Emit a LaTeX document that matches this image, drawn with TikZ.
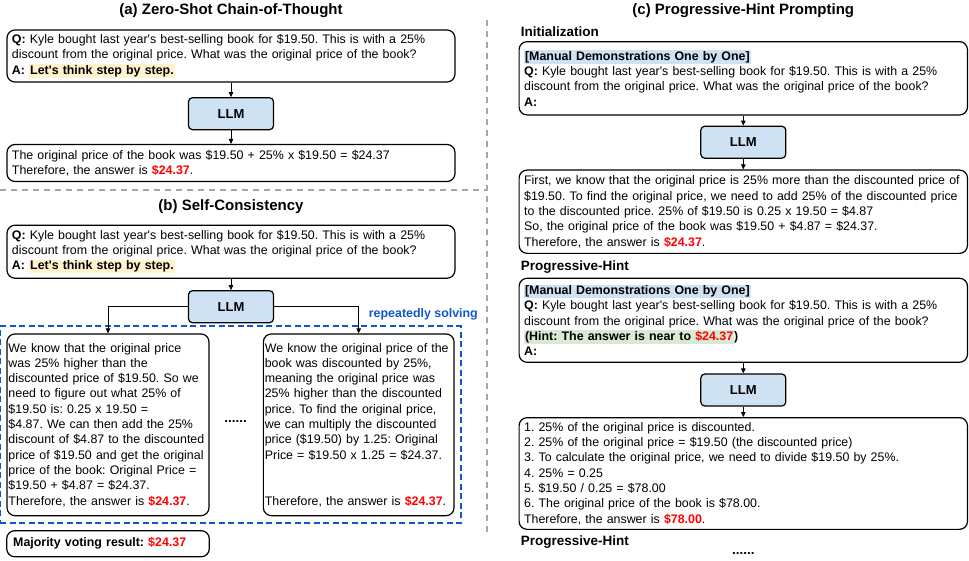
\documentclass[tikz,border=0pt]{standalone}
\usepackage{fontspec}
\setmainfont{Liberation Sans}
\usepackage{tikz}
\usetikzlibrary{arrows.meta,fit}
\definecolor{llmblue}{HTML}{CFE2F3}
\definecolor{hlyellow}{HTML}{FFF2CC}
\definecolor{hlblue}{HTML}{CFE2F3}
\definecolor{hlgreen}{HTML}{D9EAD3}
\definecolor{ansred}{HTML}{FF0000}
\definecolor{solveblue}{HTML}{1155CC}
\definecolor{sepgray}{HTML}{A6A6A6}
\frenchspacing
\hyphenpenalty=10000
\exhyphenpenalty=10000
\newcommand{\hlbox}[2]{{\setlength{\fboxsep}{1pt}\colorbox{#1}{#2}}}
\newcommand{\redans}[1]{\textcolor{ansred}{\textbf{#1}}}
\newcommand{\kyleq}{\textbf{Q:} Kyle bought last year\textquotesingle s best-selling book for \$19.50. This is with a 25\%\\
discount from the original price. What was the original price of the book?}
\newcommand{\manual}{\hlbox{hlblue}{\textbf{[Manual Demonstrations One by One]}}}

\begin{document}
\begin{tikzpicture}[x=1pt,y=1pt]
\tikzstyle{every node}+=[inner sep=0pt]
\tikzstyle{txtbox}=[draw,line width=1.2pt,rounded corners=8pt,align=left,inner xsep=5pt,font=\fontsize{12.4}{15.3}\selectfont]
\tikzstyle{llm}=[draw,line width=1.2pt,rounded corners=4pt,fill=llmblue,minimum width=85pt,minimum height=32pt,font=\bfseries\fontsize{13}{15}\selectfont]
\tikzstyle{conn}=[line width=0.9pt,-{Triangle[length=5pt,width=4.5pt]}]
\tikzstyle{paneltitle}=[anchor=base,font=\bfseries\fontsize{15}{18}\selectfont]
\tikzstyle{stage}=[anchor=base west,font=\bfseries\fontsize{13.5}{16}\selectfont]
\tikzstyle{gapline}=[sepgray,line width=2pt,dash pattern=on 6pt off 5pt]
\tikzstyle{dotsrow}=[font=\bfseries\fontsize{13.5}{15}\selectfont]
\useasboundingbox (0,0) rectangle (969,-560);

% (a)
\node[paneltitle] (titlea) at (231,-14.7) {(a) Zero-Shot Chain-of-Thought};
\node[txtbox,text width=438pt,minimum height=52pt] (qa) at (231,-56)
  {\kyleq\\ \textbf{A:} \hlbox{hlyellow}{\textbf{Let\textquotesingle s think step by step.}}};
\node[llm] (llma) at (231,-113.7) {LLM};
\node[txtbox,text width=438pt,minimum height=37pt] (ansa) at (231,-163)
  {The original price of the book was \$19.50 + 25\% x \$19.50 = \$24.37\\
   Therefore, the answer is \redans{\$24.37}.};
\draw[conn] (qa) -- (llma);
\draw[conn] (llma) -- (ansa);

\coordinate (sepl) at (0,-190);
\coordinate (sepr) at (487,-190);
\coordinate (sept) at (487,-20);
\coordinate (sepb) at (487,-534);
\draw[gapline] (sepl) -- (sepr);
\draw[gapline] (sept) -- (sepb);

% (b)
\node[paneltitle] (titleb) at (231,-210.4) {(b) Self-Consistency};
\node[txtbox,text width=438pt,minimum height=53pt] (qb) at (231,-251.7)
  {\kyleq\\ \textbf{A:} \hlbox{hlyellow}{\textbf{Let\textquotesingle s think step by step.}}};
\node[llm] (llmb) at (231,-306.7) {LLM};
\node[txtbox,text width=199pt,inner xsep=1.5pt,minimum height=181.7pt] (ansb1) at (108,-424.8)
  {We know that the original price\\
   was 25\% higher than the\\
   discounted price of \$19.50. So we\\
   need to figure out what 25\% of\\
   \$19.50 is: 0.25 x 19.50 =\\
   \$4.87. We can then add the 25\%\\
   discount of \$4.87 to the discounted\\
   price of \$19.50 and get the original\\
   price of the book: Original Price =\\
   \$19.50 + \$4.87 = \$24.37.\\
   Therefore, the answer is \redans{\$24.37}.};
\node[txtbox,text width=187.7pt,inner xsep=1.5pt,minimum height=181.7pt] (ansb2) at (358.7,-424.8)
  {We know the original price of the\\
   book was discounted by 25\%,\\
   meaning the original price was\\
   25\% higher than the discounted\\
   price. To find the original price,\\
   we can multiply the discounted\\
   price (\$19.50) by 1.25: Original\\
   Price = \$19.50 x 1.25 = \$24.37.\\[2\baselineskip]
   Therefore, the answer is \redans{\$24.37}.};
\node[dotsrow] (dotsb) at (235.5,-421.7) {......};
\node[fit=(ansb1)(ansb2),draw=solveblue,line width=1.8pt,dash pattern=on 6pt off 3.5pt,inner xsep=6pt,inner ysep=7pt] (solving) {};
\node[anchor=east,text=solveblue,font=\bfseries\fontsize{12.4}{15}\selectfont] (repeat) at (478,-314.3) {repeatedly solving};
\node[txtbox,text width=189.6pt,inner xsep=6.5pt,minimum height=26pt,font=\bfseries\fontsize{12.4}{15}\selectfont] (vote) at (108,-543.7)
  {Majority voting result: \textcolor{ansred}{\$24.37}};
\draw[conn] (qb) -- (llmb);
\draw[conn] (llmb.west) -| (ansb1.north);
\draw[conn] (llmb.east) -| (ansb2.north);

% (c)
\node[paneltitle] (titlec) at (743.3,-14.7) {(c) Progressive-Hint Prompting};
\node[stage] (init) at (520.7,-36.6) {Initialization};
\node[txtbox,text width=438.4pt,minimum height=73.3pt] (qc1) at (743.3,-78.3)
  {\manual\\ \kyleq\\ \textbf{A:}};
\node[llm] (llmc1) at (743.3,-142.2) {LLM};
\node[txtbox,text width=438.4pt,minimum height=83.3pt] (ansc1) at (743.3,-211.7)
  {First, we know that the original price is 25\% more than the discounted price of\\
   \$19.50. To find the original price, we need to add 25\% of the discounted price\\
   to the discounted price. 25\% of \$19.50 is 0.25 x 19.50 = \$4.87\\
   So, the original price of the book was \$19.50 + \$4.87 = \$24.37.\\
   Therefore, the answer is \redans{\$24.37}.};
\node[stage] (hint1) at (520.7,-270.9) {Progressive-Hint};
\node[txtbox,text width=438.4pt,minimum height=84pt] (qc2) at (743.3,-320.3)
  {\manual\\ \kyleq\\
   \hlbox{hlgreen}{\textbf{(Hint: The answer is near to \textcolor{ansred}{\$24.37}}}\textbf{)}\\
   \textbf{A:}};
\node[llm] (llmc2) at (743.3,-390) {LLM};
\node[txtbox,text width=438.4pt,minimum height=111.7pt] (ansc2) at (743.3,-473.5)
  {1. 25\% of the original price is discounted.\\
   2. 25\% of the original price = \$19.50 (the discounted price)\\
   3. To calculate the original price, we need to divide \$19.50 by 25\%.\\
   4. 25\% = 0.25\\
   5. \$19.50 / 0.25 = \$78.00\\
   6. The original price of the book is \$78.00.\\
   Therefore, the answer is \redans{\$78.00}.};
\node[stage] (hint2) at (520.7,-545.9) {Progressive-Hint};
\node[dotsrow] (dotsc) at (743.3,-553) {......};
\draw[conn] (qc1) -- (llmc1);
\draw[conn] (llmc1) -- (ansc1);
\draw[conn] (qc2) -- (llmc2);
\draw[conn] (llmc2) -- (ansc2);
\end{tikzpicture}
\end{document}
